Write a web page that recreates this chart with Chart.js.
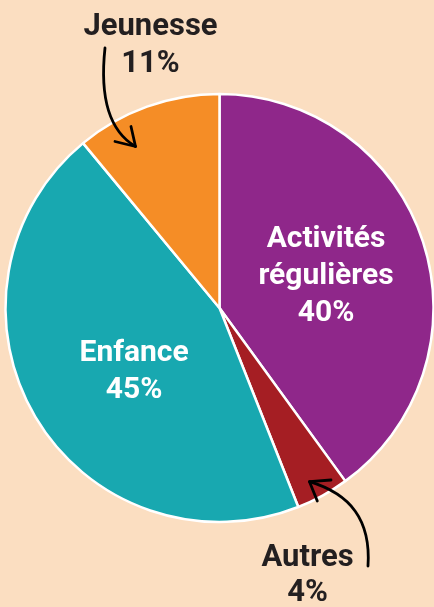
<!DOCTYPE html>
<html><head><meta charset="utf-8">
<script src="https://cdn.jsdelivr.net/npm/chart.js@4"></script>
<style>
html,body{margin:0;padding:0;background:#FBDEC1;}
#wrap{width:434px;height:607px;position:relative;}
</style>
</head><body><div id="wrap"><canvas id="c"></canvas></div>
<script>
const categories = ['Activités régulières', 'Autres', 'Enfance', 'Jeunesse'];
const shares = [40, 4, 45, 11];
const labelLines = [['Activités', 'régulières'], ['Autres'], ['Enfance'], ['Jeunesse']];
const sliceColors = ['#8F278A', '#A51E23', '#18A8B0', '#F58D26'];

// label layout (inside: polar offset from slice middle; outside: offset from pie centre)
const labelLayout = [
  {inside: true, r: 112, dTheta: 0, size: 30, lh: 36.6},
  {inside: false, dx: 88, dy: 258, size: 31, lh: 34.5},
  {inside: true, r: 105, dTheta: -5, size: 30, lh: 36.6},
  {inside: false, dx: -69, dy: -273, size: 31, lh: 36.7}
];
// arrows relative to pie centre: start, cp1, cp2, tip, wing1, wing2
const arrows = [
  [[-114.5,-260],[-119.5,-214],[-112,-178],[-84,-161.5],[-104.5,-166.5],[-88.5,-181.5]],
  [[148.5,258],[151.5,212],[131,186],[90,173.7],[111.5,172],[97.8,193]]
];

const labelPlugin = {
  id: 'labels',
  afterDatasetsDraw(chart) {
    const ctx = chart.ctx;
    const meta = chart.getDatasetMeta(0);
    const cx = meta.data[0].x, cy = meta.data[0].y;
    ctx.save();
    meta.data.forEach((arc, i) => {
      const p = arc.getProps(['x','y','startAngle','endAngle','outerRadius'], true);
      const L = labelLayout[i];
      const lines = labelLines[i].concat([shares[i] + '%']);
      ctx.font = 'bold ' + L.size + 'px Roboto';
      ctx.textAlign = 'center';
      ctx.textBaseline = 'alphabetic';
      const capH = 0.711 * L.size;
      if (L.inside) {
        const mid = (p.startAngle + p.endAngle) / 2 + L.dTheta * Math.PI / 180;
        const x = p.x + L.r * Math.cos(mid);
        const y = p.y + L.r * Math.sin(mid);
        ctx.fillStyle = '#FFFFFF';
        const n = lines.length;
        lines.forEach((t, k) => {
          ctx.fillText(t, x, y + (k - (n - 1) / 2) * L.lh + capH / 2);
        });
      } else {
        ctx.fillStyle = '#231F20';
        lines.forEach((t, k) => {
          ctx.fillText(t, p.x + L.dx, p.y + L.dy + k * L.lh);
        });
      }
    });
    ctx.strokeStyle = '#000000';
    ctx.lineWidth = 2.8;
    ctx.lineCap = 'round';
    ctx.lineJoin = 'round';
    arrows.forEach(a => {
      const P = a.map(q => [cx + q[0], cy + q[1]]);
      ctx.beginPath();
      ctx.moveTo(P[0][0], P[0][1]);
      ctx.bezierCurveTo(P[1][0], P[1][1], P[2][0], P[2][1], P[3][0], P[3][1]);
      ctx.stroke();
      ctx.beginPath();
      ctx.moveTo(P[4][0], P[4][1]);
      ctx.lineTo(P[3][0], P[3][1]);
      ctx.lineTo(P[5][0], P[5][1]);
      ctx.stroke();
    });
    ctx.restore();
  }
};

new Chart(document.getElementById('c'), {
  type: 'pie',
  data: {
    labels: categories,
    datasets: [{
      data: shares,
      backgroundColor: sliceColors,
      borderColor: '#FFFFFF',
      borderWidth: 2.5,
      radius: 214
    }]
  },
  options: {
    responsive: true,
    maintainAspectRatio: false,
    animation: false,
    layout: {padding: {left: 5, top: 9, right: 0, bottom: 0}},
    plugins: {legend: {display: false}, tooltip: {enabled: false}}
  },
  plugins: [labelPlugin]
});
</script>
</body></html>
